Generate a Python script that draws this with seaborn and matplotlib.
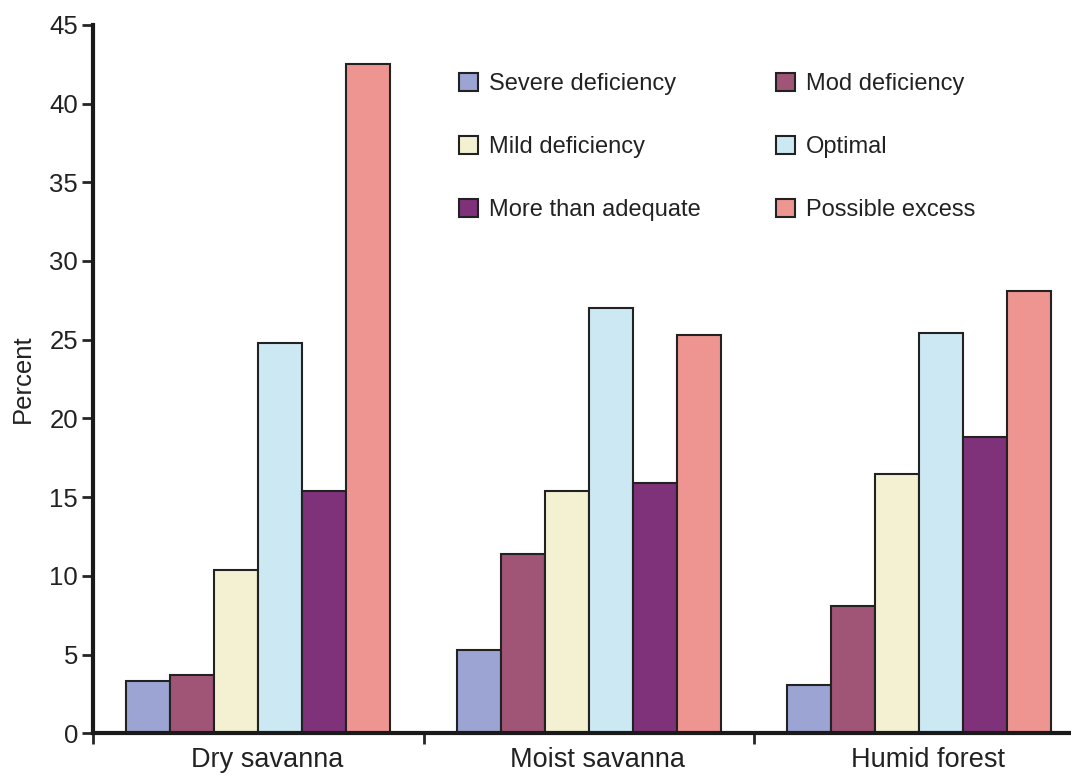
import numpy as np
import pandas as pd
import matplotlib
matplotlib.use("Agg")
import matplotlib.pyplot as plt
import matplotlib.transforms as mtransforms
import seaborn as sns
from matplotlib.ticker import FixedLocator

# Data
REGIONS = ["Dry savanna", "Moist savanna", "Humid forest"]
CLASSES = ["Severe deficiency", "Mod deficiency", "Mild deficiency",
           "Optimal", "More than adequate", "Possible excess"]
severe = [3.3, 5.3, 3.1]
moderate = [3.7, 11.4, 8.1]
mild = [10.4, 15.4, 16.5]
optimal = [24.8, 27.0, 25.4]
more_adequate = [15.4, 15.9, 18.8]
excess = [42.5, 25.3, 28.1]

COLORS = ["#9BA4D2", "#A15576", "#F3F1D2", "#CCE8F3", "#7F3179", "#EF9591"]

series = [severe, moderate, mild, optimal, more_adequate, excess]
rows = []
for cls, vals in zip(CLASSES, series):
    for reg, v in zip(REGIONS, vals):
        rows.append({"Region": reg, "Class": cls, "Percent": v})
df = pd.DataFrame(rows)

sns.set_style("white")
plt.rcParams["font.family"] = ["Liberation Sans", "DejaVu Sans"]

fig, ax = plt.subplots(figsize=(10.71, 7.76), dpi=100)
fig.subplots_adjust(left=0.087, right=1.0, top=0.968, bottom=0.055)

sns.barplot(data=df, x="Region", y="Percent", hue="Class", order=REGIONS,
            hue_order=CLASSES, palette=COLORS, saturation=1, width=0.8, gap=0,
            edgecolor="#222222", linewidth=1.5, errorbar=None, ax=ax)

ax.set_ylim(0, 45)
ax.set_xlim(-0.5, 2.46)
ax.set_yticks(np.arange(0, 46, 5))
ax.tick_params(axis="y", labelsize=18.5, length=8, width=2, direction="out",
               left=True, pad=3, labelcolor="#222222")
ax.tick_params(axis="x", which="major", length=0, labelsize=19.5, pad=9.5,
               labelcolor="#222222")
ax.xaxis.set_minor_locator(FixedLocator([-0.5, 0.5, 1.5]))
ax.tick_params(axis="x", which="minor", length=8, width=2, direction="out", bottom=True)

# category labels sit a little right of the group centres in the original
shift = mtransforms.ScaledTranslation(0.09, 0, fig.dpi_scale_trans)
for lbl in ax.get_xticklabels():
    lbl.set_transform(lbl.get_transform() + shift)

ax.set_xlabel("")
ax.set_ylabel("Percent", fontsize=18.5, labelpad=10, color="#222222")

for side in ["top", "right"]:
    ax.spines[side].set_visible(False)
for side in ["left", "bottom"]:
    ax.spines[side].set_linewidth(3)
    ax.spines[side].set_color("#1a1a1a")

# legend filled row by row, like the original
handles, labels = ax.get_legend_handles_labels()
order = [0, 2, 4, 1, 3, 5]
leg = ax.legend([handles[i] for i in order], [labels[i] for i in order],
                ncol=2, loc="upper left", bbox_to_anchor=(0.352, 0.962),
                frameon=False, fontsize=17, handlelength=0.8, handleheight=0.8,
                columnspacing=3.2, labelspacing=1.72, handletextpad=0.47)
for h in leg.legend_handles:
    h.set_edgecolor("#222222")
    h.set_linewidth(1.5)
for t in leg.get_texts():
    t.set_color("#222222")

fig.savefig("out.png", dpi=100)
